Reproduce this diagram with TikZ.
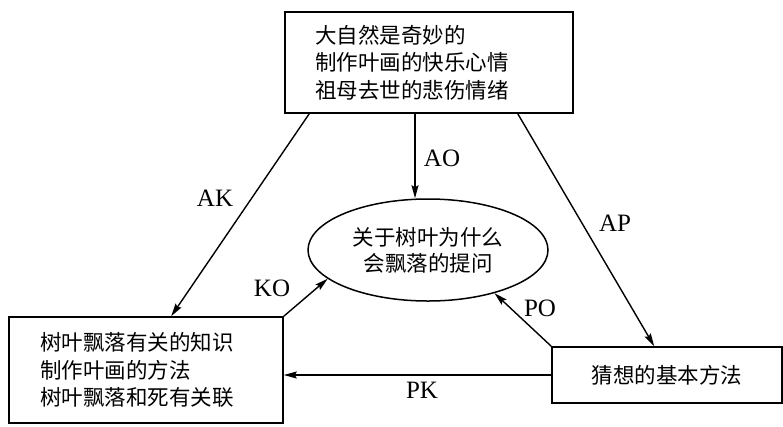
\documentclass[tikz,border=0pt]{standalone}
\usepackage{fontspec}
\setmainfont{Liberation Serif}
\newfontfamily\cjk{Noto Sans CJK SC}
\usetikzlibrary{shapes.geometric,arrows.meta}
\begin{document}
\begin{tikzpicture}[x=1pt,y=-1pt,
  box/.style={draw,line width=1.6pt,inner ysep=2pt,font=\cjk\fontsize{21.5}{27.5}\selectfont},
  oval/.style={draw,ellipse,line width=1.5pt,minimum width=240pt,minimum height=102pt,inner sep=0pt,align=center,font=\cjk\fontsize{21.5}{26}\selectfont},
  arr/.style={line width=1.4pt,-{Stealth[length=13pt,width=7pt,inset=2pt]}},
  lab/.style={font=\fontsize{25}{25}\selectfont,inner sep=0pt}]
\useasboundingbox (0,0) rectangle (783,426);
\node[box,minimum width=288pt,minimum height=101pt,inner xsep=30pt,text width=228pt,align=left] (top) at (429,62.5)
  {大自然是奇妙的\\制作叶画的快乐心情\\祖母去世的悲伤情绪};
\node[box,minimum width=274pt,minimum height=106pt,inner xsep=31pt,text width=212pt,align=left] (left) at (146,370)
  {树叶飘落有关的知识\\制作叶画的方法\\树叶飘落和死有关联};
\node[box,minimum width=230pt,minimum height=56pt,inner sep=0pt] (right) at (667,375) {猜想的基本方法};
\node[oval] (ell) at (428,250) {关于树叶为什么\\会飘落的提问};
\draw[arr] ([xshift=-14pt]top.south) -- ([xshift=-13pt]ell.north);
\draw[arr] ([xshift=25pt]top.south west) -- ([xshift=163pt]left.north west);
\draw[arr] ([xshift=-56pt]top.south east) -- ([xshift=103pt]right.north west);
\draw[arr] (left.north east) -- (ell.196);
\draw[arr] (right.north west) -- (ell.327);
\draw[arr] (right.west) -- (right.west -| left.east);
\node[lab] (lAO) at (442,158) {AO};
\node[lab] (lAK) at (215,198) {AK};
\node[lab] (lAP) at (615,223) {AP};
\node[lab] (lKO) at (272,288) {KO};
\node[lab] (lPO) at (540,308) {PO};
\node[lab] (lPK) at (422,390) {PK};
\end{tikzpicture}
\end{document}
